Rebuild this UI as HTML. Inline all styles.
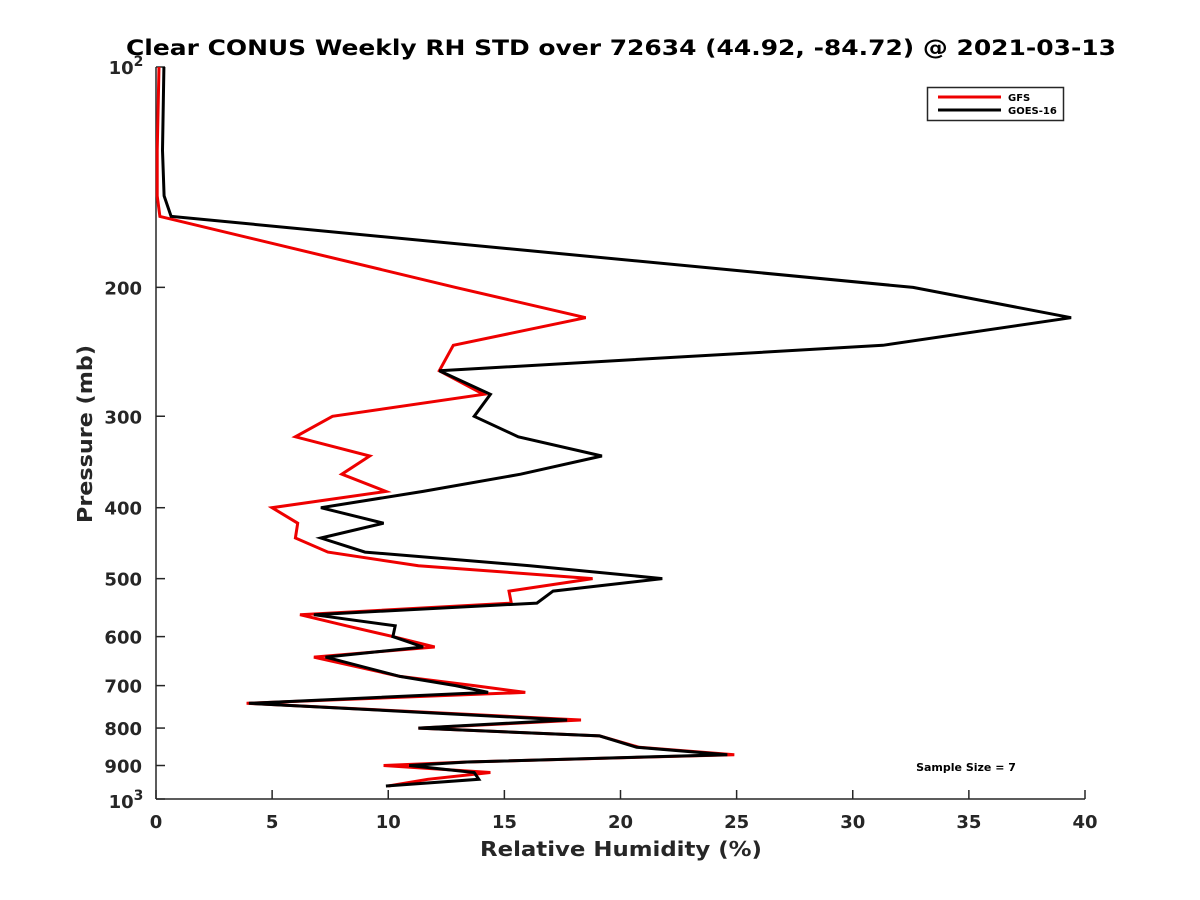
<!DOCTYPE html>
<html><head><meta charset="utf-8"><style>
body{margin:0;background:#fff}
svg{display:block;font-family:"DejaVu Sans","Liberation Sans",sans-serif}
</style></head><body>
<svg id="chart" width="1200" height="900">
<rect width="1200" height="900" fill="#fff"/>
<text x="621" y="55" text-anchor="middle" font-size="21" font-weight="bold" fill="#000" textLength="990" lengthAdjust="spacingAndGlyphs">Clear CONUS Weekly RH STD over 72634 (44.92, -84.72) @ 2021-03-13</text>
<g id="axes"></g>
<g id="series"></g>
<text x="621" y="856" text-anchor="middle" font-size="20" font-weight="bold" fill="#262626" textLength="282" lengthAdjust="spacingAndGlyphs">Relative Humidity (%)</text>
<text transform="translate(92,434) rotate(-90)" text-anchor="middle" font-size="20" font-weight="bold" fill="#262626" textLength="178" lengthAdjust="spacingAndGlyphs">Pressure (mb)</text>
<g>
<rect x="927.5" y="87.5" width="136" height="33" fill="#fff" stroke="#262626" stroke-width="1.5"/>
<line x1="938" y1="97" x2="1001" y2="97" stroke="#e00" stroke-width="3"/>
<text x="1008" y="101" font-size="10" font-weight="bold" fill="#000">GFS</text>
<line x1="938" y1="110" x2="1001" y2="110" stroke="#000" stroke-width="3"/>
<text x="1008" y="114" font-size="10" font-weight="bold" fill="#000">GOES-16</text>
</g>
<text x="966" y="771" text-anchor="middle" font-size="11" font-weight="bold" fill="#000">Sample Size = 7</text>
</svg>
<script>
const pressure = [100,130,150,160,200,220,240,260,280,300,320,340,360,380,400,420,440,460,480,500,520,540,560,580,600,620,640,680,700,715,740,780,800,820,850,870,890,900,920,940,960];
const gfsValues = [0.13,0.05,0.05,0.17,12.9,18.5,12.8,12.2,14.1,7.6,6.0,9.2,8.0,9.9,5.0,6.1,6.0,7.4,11.3,18.8,15.2,15.3,6.2,8.2,10.2,12.0,6.8,10.5,13.7,15.9,3.9,18.3,11.3,19.1,20.8,24.9,13.4,9.8,14.4,11.7,10.0];
const goesValues = [0.34,0.28,0.35,0.65,32.6,39.4,31.3,12.2,14.4,13.7,15.6,19.2,15.7,11.5,7.1,9.8,7.1,9.0,16.1,21.8,17.1,16.4,6.8,10.3,10.2,11.5,7.3,10.5,12.9,14.3,4.0,17.7,11.3,19.1,20.7,24.6,13.4,10.9,13.7,13.9,9.9];
const xTicks = [0,5,10,15,20,25,30,35,40];
const yTicks = [200,300,400,500,600,700,800,900];

const X0=156,X1=1085,Y0=67,Y1=799;
const xs=v=>X0+(v/40)*(X1-X0);
const ys=p=>Y0+Math.log10(p/100)*(Y1-Y0);
const NS='http://www.w3.org/2000/svg';
const axes=document.getElementById('axes');
const series=document.getElementById('series');
function mk(tag,attrs,parent){const e=document.createElementNS(NS,tag);for(const k in attrs)e.setAttribute(k,attrs[k]);parent.appendChild(e);return e;}

const xl=mk('line',{x1:X0,y1:Y1,x2:X1,y2:Y1,stroke:'#262626','stroke-width':1.5},axes);


const yl=mk('line',{x1:X0,y1:Y0,x2:X0,y2:Y1,stroke:'#262626','stroke-width':1.5},axes);



xTicks.forEach(v=>{
  const x=xs(v);
  const t=mk('line',{x1:x,y1:Y1,x2:x,y2:Y1-9,stroke:'#262626','stroke-width':1.5},axes);
  
  
  const l=mk('text',{x:x,y:Y1+29,'text-anchor':'middle','font-size':18,'font-weight':'bold',fill:'#262626'},axes);
  l.textContent=v;
  
  
});
yTicks.forEach(p=>{
  const y=ys(p);
  const t=mk('line',{x1:X0,y1:y,x2:X0+9,y2:y,stroke:'#262626','stroke-width':1.5},axes);
  
  
  const l=mk('text',{x:X0-14,y:y+7,'text-anchor':'end','font-size':18,'font-weight':'bold',fill:'#262626'},axes);
  l.textContent=p;
  
  
});
[[100,Y0],[1000,Y1]].forEach(([p,y],i)=>{
  const t=mk('line',{x1:X0,y1:y,x2:X0+9,y2:y,stroke:'#262626','stroke-width':1.5},axes);
  
  
  const l=mk('text',{x:X0-30,y:y+(i==0?7:9),'text-anchor':'middle','font-size':18,'font-weight':'bold',fill:'#262626'},axes);
  l.innerHTML='10<tspan dy="-8" font-size="14">'+(i==0?2:3)+'</tspan>';
  
  
});

function drawLine(vals,color,name){
  const pts=vals.map((v,i)=>xs(v).toFixed(1)+','+ys(pressure[i]).toFixed(1)).join(' ');
  const pl=mk('polyline',{points:pts,fill:'none',stroke:color,'stroke-width':3,'stroke-linejoin':'miter'},series);
  
  
}
drawLine(gfsValues,'#e00','gfs-line');
drawLine(goesValues,'#000','goes16-line');
</script>
</body></html>
